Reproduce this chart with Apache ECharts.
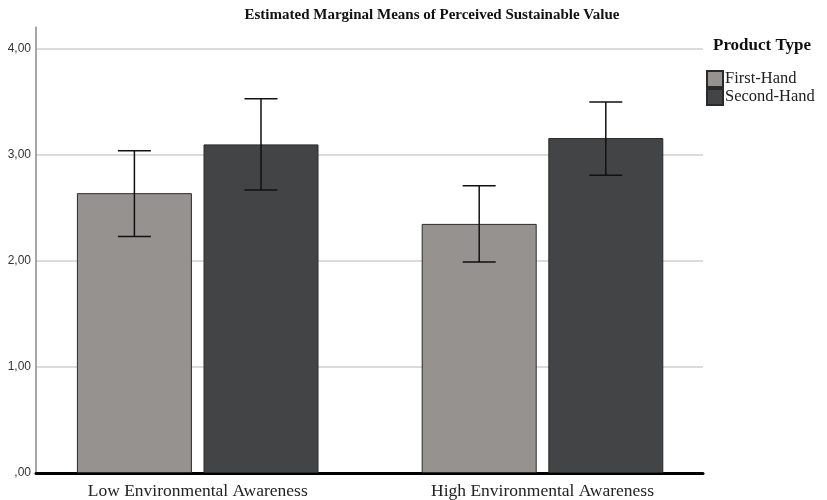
<!DOCTYPE html>
<html>
<head>
<meta charset="utf-8">
<script src="https://cdn.jsdelivr.net/npm/echarts@6/dist/echarts.min.js"></script>
<style>
  html, body { margin: 0; padding: 0; background: #fff; }
  #chart { width: 827px; height: 500px; }
</style>
</head>
<body>
<div id="chart"></div>
<script>
// Estimated marginal means with 95% CI, by awareness group and product type
const categories = ['Low Environmental Awareness', 'High Environmental Awareness'];
const seriesNames = ['First-Hand', 'Second-Hand'];
const firstHandMean = [2.64, 2.35];
const firstHandLow = [2.23, 1.99];
const firstHandHigh = [3.04, 2.71];
const secondHandMean = [3.10, 3.16];
const secondHandLow = [2.67, 2.81];
const secondHandHigh = [3.53, 3.50];
const yTicks = [0, 1, 2, 3, 4];

const BAR_W = 115;
const BAR_GAP = 11.6;
const CAP_W = 33;
const SERIF = '"Liberation Serif", "Times New Roman", serif';

function fmt(v) {
  return v === 0 ? ',00' : v.toFixed(2).replace('.', ',');
}

function errorSeries(low, high, idx) {
  return {
    type: 'custom',
    xAxisIndex: 2,
    yAxisIndex: 2,
    silent: true,
    z: 10,
    data: low.map((l, i) => [i, l, high[i]]),
    renderItem: function (params, api) {
      const c = api.value(0);
      const shift = (idx === 0 ? -1 : 1) * (BAR_W / 2 + BAR_GAP / 2);
      const lo = api.coord([c, api.value(1)]);
      const hi = api.coord([c, api.value(2)]);
      const x = lo[0] + shift;
      const st = { stroke: '#111', lineWidth: 1.5 };
      return {
        type: 'group',
        children: [
          { type: 'line', shape: { x1: x, y1: hi[1], x2: x, y2: lo[1] }, style: st },
          { type: 'line', shape: { x1: x - CAP_W / 2, y1: hi[1], x2: x + CAP_W / 2, y2: hi[1] }, style: st },
          { type: 'line', shape: { x1: x - CAP_W / 2, y1: lo[1], x2: x + CAP_W / 2, y2: lo[1] }, style: st }
        ]
      };
    }
  };
}

const chart = echarts.init(document.getElementById('chart'), null, { renderer: 'canvas' });
chart.setOption({
  backgroundColor: '#fff',
  animation: false,
  title: [
    {
      text: 'Estimated Marginal Means of Perceived Sustainable Value',
      left: 427, top: 3, textAlign: 'center',
      textStyle: { fontFamily: SERIF, fontSize: 15, fontWeight: 'bold', color: '#111' }
    },
    {
      text: 'Product Type',
      left: 708, top: 32,
      textStyle: { fontFamily: SERIF, fontSize: 17, fontWeight: 'bold', color: '#111' }
    }
  ],
  legend: {
    orient: 'vertical',
    left: 706, top: 70, padding: 0,
    itemWidth: 16, itemHeight: 16, itemGap: 0,
    icon: 'rect',
    data: seriesNames,
    textStyle: { fontFamily: SERIF, fontSize: 16.5, lineHeight: 17, color: '#222', padding: [0, 0, 0, -3] }
  },
  grid: [
    { left: 36, right: 124, top: 49, bottom: 27 },   // gridlines and baseline
    { left: 36, right: 124, top: 27, bottom: 27 },   // vertical axis line
    { left: 25.3, right: 112.1, top: 49, bottom: 27 } // bars
  ],
  xAxis: [
    {
      gridIndex: 0, type: 'category', data: categories,
      axisLine: { show: true, lineStyle: { color: '#000', width: 3 } },
      axisTick: { show: false }, axisLabel: { show: false }
    },
    { gridIndex: 1, type: 'value', show: false },
    {
      gridIndex: 2, type: 'category', data: categories,
      axisLine: { show: false }, axisTick: { show: false },
      axisLabel: { fontFamily: SERIF, fontSize: 17.5, color: '#222', margin: 9 }
    }
  ],
  yAxis: [
    {
      gridIndex: 0, type: 'value', min: yTicks[0], max: yTicks[yTicks.length - 1], interval: 1,
      axisLine: { show: false }, axisTick: { show: false },
      axisLabel: { formatter: fmt, fontFamily: 'Arial, "Liberation Sans", sans-serif', fontSize: 12, color: '#333', margin: 5 },
      splitLine: { show: true, lineStyle: { color: '#cfcfcf', width: 1.5 } }
    },
    {
      gridIndex: 1, type: 'value', min: 0, max: 1,
      axisLine: { show: true, lineStyle: { color: '#8a8a8a', width: 1.5 } },
      axisTick: { show: false }, axisLabel: { show: false }, splitLine: { show: false }
    },
    { gridIndex: 2, type: 'value', min: 0, max: 4, show: false, splitLine: { show: false } }
  ],
  series: [
    {
      name: seriesNames[0], type: 'bar', xAxisIndex: 2, yAxisIndex: 2,
      barWidth: BAR_W, barGap: (BAR_GAP / BAR_W * 100) + '%',
      data: firstHandMean,
      itemStyle: { color: '#96928f', borderColor: '#2a2a2a', borderWidth: 1 }
    },
    {
      name: seriesNames[1], type: 'bar', xAxisIndex: 2, yAxisIndex: 2,
      barWidth: BAR_W, barGap: (BAR_GAP / BAR_W * 100) + '%',
      data: secondHandMean,
      itemStyle: { color: '#424446', borderColor: '#2a2a2a', borderWidth: 1 }
    },
    errorSeries(firstHandLow, firstHandHigh, 0),
    errorSeries(secondHandLow, secondHandHigh, 1)
  ]
});
</script>
</body>
</html>
